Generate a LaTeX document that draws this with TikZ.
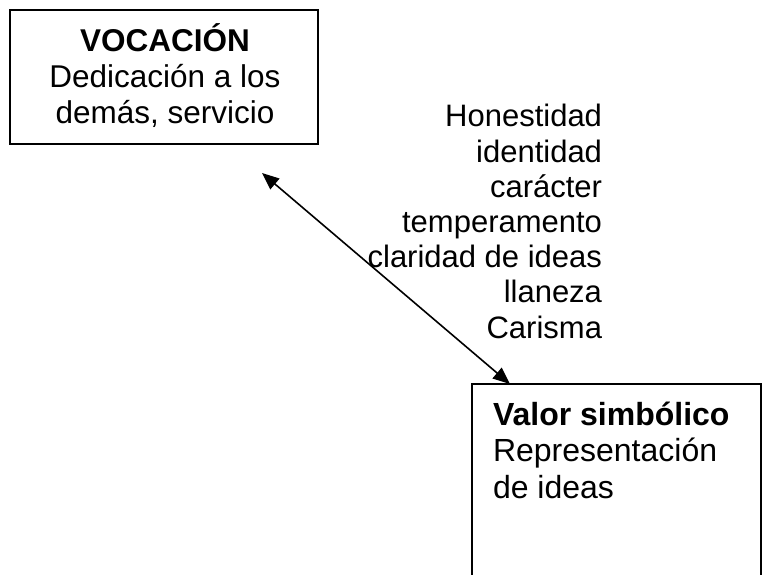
\documentclass[tikz,border=0pt]{standalone}
\usepackage{fontspec}
\setmainfont{Liberation Sans}
\usetikzlibrary{arrows.meta}
\begin{document}
\begin{tikzpicture}[x=1pt,y=-1pt,
  boxstyle/.style={draw=black, line width=1.3pt, inner sep=0pt, outer sep=0pt},
  lbl/.style={inner sep=0pt, outer sep=0pt},
  link/.style={line width=1.6pt, {Triangle[length=17pt,width=14pt]}-{Triangle[length=17pt,width=14pt]}}]
\useasboundingbox[fill=white] (0,0) rectangle (762,574);
% box 1
\node[boxstyle, minimum width=308pt, minimum height=134pt, anchor=north west] (voc) at (10,10) {};
\node[lbl, align=center, anchor=base, font=\fontsize{31.5}{36}\selectfont] (voctext) at (165,123)
  {\textbf{VOCACIÓN}\\Dedicación a los\\demás, servicio};
% box 2
\node[boxstyle, minimum width=289pt, minimum height=240pt, anchor=north west] (valor) at (472,384) {};
\node[lbl, align=left, anchor=base west, font=\fontsize{32}{36.5}\selectfont] (valortext) at (493,498)
  {\textbf{Valor simbólico}\\Representación\\de ideas};
% qualities
\node[lbl, align=right, anchor=base east, font=\fontsize{31}{35.2}\selectfont] (quals) at (602,338)
  {Honestidad\\identidad\\carácter\\temperamento\\claridad de ideas\\llaneza\\Carisma};
% connector
\coordinate (a1) at (262,173);
\coordinate (a2) at ([xshift=38pt]valor.north west);
\draw[link] (a1) -- (a2);
\end{tikzpicture}
\end{document}
